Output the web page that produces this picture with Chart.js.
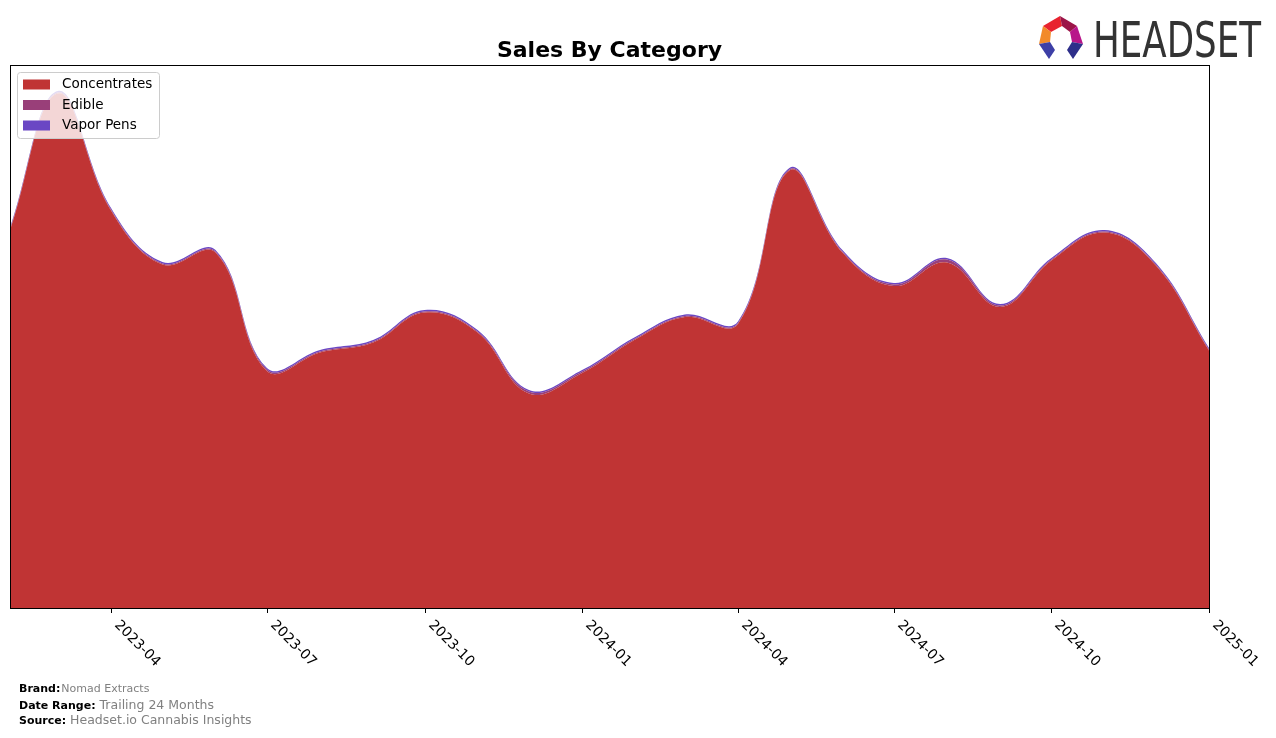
<!DOCTYPE html>
<html>
<head>
<meta charset="utf-8">
<script src="https://cdn.jsdelivr.net/npm/chart.js@4.4.1/dist/chart.umd.min.js"></script>
<style>
  html, body { margin: 0; padding: 0; background: #fff; }
  #wrap { width: 1276px; height: 738px; position: relative; }
</style>
</head>
<body>
<div id="wrap"><canvas id="salesChart" width="1276" height="738"></canvas></div>
<script>
// monthly points, trailing 24 months
const months = ["2023-02", "2023-03", "2023-04", "2023-05", "2023-06", "2023-07",
  "2023-08", "2023-09", "2023-10", "2023-11", "2023-12", "2024-01",
  "2024-02", "2024-03", "2024-04", "2024-05", "2024-06", "2024-07",
  "2024-08", "2024-09", "2024-10", "2024-11", "2024-12", "2025-01"];

const concentrates = [377.5, 514.5, 397.5, 343.5, 355.5, 237, 255.5, 265.5, 295.5, 275.5, 214.5, 235,
  268.5, 291, 284, 437.5, 355.5, 322, 345.5, 301, 347.5, 375.5, 342.5, 257.5];
const edible = [1, 1, 1, 1, 1, 1.5, 1, 1, 1, 1, 2, 1.5, 1, 1, 1, 1, 1, 1.5, 3, 1.5, 1, 1, 1, 1];
const vaporPens = [1.5, 1.5, 1.5, 1.5, 1.5, 1.5, 1.5, 1.5, 1.5, 1.5, 1.5, 1.5,
  1.5, 1.5, 1.5, 1.5, 1.5, 1.5, 1.5, 1.5, 1.5, 1.5, 1.5, 1.5];

const tickLabels = ["2023-04", "2023-07", "2023-10", "2024-01", "2024-04", "2024-07", "2024-10", "2025-01"];

const seriesNames = ["Concentrates", "Edible", "Vapor Pens"];
const seriesColors = ["#c03434", "#993f79", "#6a47c4"];

// x axis is days since the first month
const startDay = Date.UTC(2023, 1, 1);
function dayOf(label) {
  const parts = label.split("-");
  return (Date.UTC(+parts[0], +parts[1] - 1, 1) - startDay) / 86400000;
}
const endDay = dayOf("2025-01");

function toPoints(values) {
  return months.map((m, i) => ({ x: dayOf(m), y: values[i] }));
}

const decorations = {
  id: "decorations",
  afterDraw(chart) {
    const ctx = chart.ctx;
    const area = chart.chartArea;
    const xs = chart.scales.x;

    ctx.save();
    // frame
    ctx.strokeStyle = "#000";
    ctx.lineWidth = 1;
    ctx.strokeRect(area.left + 0.5, area.top + 0.5, area.right - area.left, area.bottom - area.top);

    // x ticks + rotated labels
    ctx.fillStyle = "#000";
    ctx.font = "14px 'DejaVu Sans'";
    ctx.textAlign = "left";
    ctx.textBaseline = "middle";
    tickLabels.forEach((t) => {
      const px = Math.round(xs.getPixelForValue(dayOf(t))) + 0.5;
      ctx.beginPath();
      ctx.moveTo(px, area.bottom);
      ctx.lineTo(px, area.bottom + 5);
      ctx.stroke();
      ctx.save();
      ctx.translate(px + 5, area.bottom + 15);
      ctx.rotate(Math.PI / 4);
      ctx.fillText(t, 0, 0);
      ctx.restore();
    });

    // title
    ctx.font = "bold 22px 'DejaVu Sans'";
    ctx.textAlign = "center";
    ctx.textBaseline = "middle";
    ctx.fillText("Sales By Category", (area.left + area.right) / 2, 51);

    // legend box
    ctx.fillStyle = "rgba(255,255,255,0.8)";
    ctx.strokeStyle = "#cccccc";
    ctx.beginPath();
    ctx.roundRect(17.5, 72.5, 142, 66, 3);
    ctx.fill();
    ctx.stroke();
    ctx.font = "13.5px 'DejaVu Sans'";
    ctx.textAlign = "left";
    seriesNames.forEach((name, i) => {
      const y = 84.5 + i * 20.5;
      ctx.fillStyle = seriesColors[i];
      ctx.fillRect(23, y - 5, 27, 10);
      ctx.fillStyle = "#000";
      ctx.fillText(name, 62, y);
    });

    // footer
    const footer = [
      ["Brand:", "Nomad Extracts", 689, "11px"],
      ["Date Range:", "Trailing 24 Months", 706, "12.5px"],
      ["Source:", "Headset.io Cannabis Insights", 721, "12.5px"]
    ];
    footer.forEach((f) => {
      ctx.font = "bold 11px 'DejaVu Sans'";
      ctx.fillStyle = "#000";
      ctx.fillText(f[0], 19, f[2]);
      const w = ctx.measureText(f[0]).width;
      ctx.font = f[3] + " 'DejaVu Sans'";
      ctx.fillStyle = "#808080";
      ctx.fillText(f[1], 19 + w + (f[0] === "Brand:" ? 1 : 4), f[2]);
    });

    // logo mark
    const polys = [
      ["#e8232f", [[1043, 26], [1060, 16], [1062, 26], [1051, 32]]],
      ["#9c1548", [[1060, 16], [1077, 26], [1070, 32], [1062, 26]]],
      ["#f28a2a", [[1043, 26], [1051, 32], [1050, 42], [1039, 44]]],
      ["#b8168a", [[1077, 26], [1083, 44], [1072, 42], [1070, 32]]],
      ["#3d3fa6", [[1039, 44], [1050, 42], [1055, 50], [1049, 59]]],
      ["#2e2f8a", [[1083, 44], [1072, 42], [1067, 50], [1073, 59]]]
    ];
    polys.forEach((p) => {
      ctx.fillStyle = p[0];
      ctx.beginPath();
      p[1].forEach((pt, k) => (k ? ctx.lineTo(pt[0], pt[1]) : ctx.moveTo(pt[0], pt[1])));
      ctx.closePath();
      ctx.fill();
    });

    // logo text, squeezed to width
    ctx.font = "50px 'DejaVu Sans'";
    ctx.fillStyle = "#333333";
    ctx.textBaseline = "alphabetic";
    const tw = ctx.measureText("HEADSET").width;
    ctx.save();
    ctx.translate(1093, 57);
    ctx.scale(168 / tw, 1);
    ctx.fillText("HEADSET", 0, 0);
    ctx.restore();

    ctx.restore();
  }
};

const ctx = document.getElementById("salesChart").getContext("2d");
const salesChart = new Chart(ctx, {
  type: "line",
  data: {
    datasets: [concentrates, edible, vaporPens].map((vals, i) => ({
      label: seriesNames[i],
      data: toPoints(vals),
      backgroundColor: seriesColors[i],
      borderColor: seriesColors[i],
      borderWidth: 0,
      pointRadius: 0,
      tension: 0.4,
      fill: i === 0 ? "origin" : "-1"
    }))
  },
  options: {
    responsive: false,
    animation: false,
    layout: { padding: { left: 10, top: 65, right: 67, bottom: 130 } },
    plugins: {
      legend: { display: false },
      title: { display: false },
      tooltip: { enabled: false }
    },
    scales: {
      x: { type: "linear", min: 0, max: endDay, display: false },
      y: { stacked: true, min: 0, max: 543, display: false }
    }
  },
  plugins: [decorations]
});
</script>
</body>
</html>
